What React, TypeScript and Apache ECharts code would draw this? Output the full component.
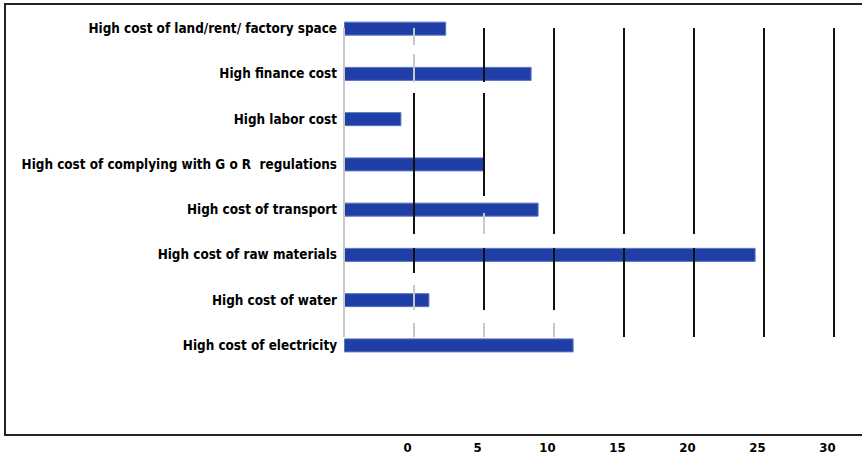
import React, { useEffect, useRef } from "react";
import * as echarts from "echarts";

const categories = [
  "High cost of land/rent/ factory space",
  "High finance cost",
  "High labor cost",
  "High cost of complying with G o R  regulations",
  "High cost of transport",
  "High cost of raw materials",
  "High cost of water",
  "High cost of electricity",
];
const values = [7.3, 13.4, 4.1, 10.0, 13.9, 29.4, 6.1, 16.4];
const tickLabels = ["", "0", "5", "10", "15", "20", "25", "30"];

// decorative gridline pieces: [x value, y from, y to, kind]
const gridPieces: [number, number, number, string][] = [
  [0, 28, 337, "g"],
  [5, 28, 45, "g"], [5, 54, 82, "g"], [5, 93, 234, "b"], [5, 248, 273, "b"], [5, 285, 310, "g"], [5, 323, 337, "g"],
  [10, 28, 82, "b"], [10, 93, 196, "b"], [10, 213, 234, "g"], [10, 248, 310, "b"], [10, 323, 337, "g"],
  [15, 28, 234, "b"], [15, 248, 310, "b"], [15, 323, 337, "g"],
  [20, 28, 234, "b"], [20, 248, 337, "b"],
  [25, 28, 234, "b"], [25, 248, 337, "b"],
  [30, 28, 337, "b"],
  [35, 28, 337, "b"],
];

export default function App() {
  const ref = useRef<HTMLDivElement>(null);
  useEffect(() => {
    const chart = echarts.init(ref.current!, null, { renderer: "svg" });
    const font = "'DejaVu Sans Condensed', sans-serif";
    chart.setOption({
      animation: false,
      grid: { left: 344, right: 28, top: 6, height: 362, outerBoundsMode: "none", containLabel: false },
      graphic: [
        {
          type: "rect",
          z: 0,
          shape: { x: 5, y: 4, width: 900, height: 431 },
          style: { fill: "transparent", stroke: "#222", lineWidth: 2 },
        },
      ],
      xAxis: {
        type: "value",
        min: 0,
        max: 35,
        interval: 5,
        offset: 67,
        axisLine: { show: false },
        axisTick: { show: false },
        splitLine: { show: false },
        axisLabel: {
          margin: 6,
          color: "#000",
          fontWeight: "bold",
          fontSize: 13,
          fontFamily: font,
          padding: [0, 13, 0, 0],
          formatter: (v: number) => tickLabels[Math.round(v / 5)] ?? "",
        },
      },
      yAxis: [
        {
          type: "category",
          inverse: true,
          data: categories,
          axisLine: { show: false },
          axisTick: { show: false },
          splitLine: { show: false },
          axisLabel: {
            margin: 7,
            color: "#000",
            fontWeight: "bold",
            fontSize: 13.4,
            fontFamily: font,
          },
        },
        { type: "value", min: 6, max: 368, inverse: true, show: false },
      ],
      series: [
        {
          type: "line",
          xAxisIndex: 0,
          yAxisIndex: 1,
          data: [],
          z: 1,
          silent: true,
          markLine: {
            silent: true,
            symbol: "none",
            label: { show: false },
            data: gridPieces.map(([x, y0, y1, k]) => [
              {
                coord: [x, y0],
                lineStyle: { color: k === "b" ? "#111" : "#c8c8c8", width: 2, type: "solid" },
              },
              { coord: [x, y1] },
            ]),
          },
        },
        {
          type: "bar",
          xAxisIndex: 0,
          yAxisIndex: 0,
          data: values,
          barWidth: 14,
          z: 3,
          itemStyle: { color: "#1f3fa7", borderColor: "#5a74c2", borderWidth: 1 },
        },
      ],
    });
    return () => chart.dispose();
  }, []);
  return (
    <div
      ref={ref}
      style={{ position: "absolute", left: 0, top: 0, width: 862, height: 460 }}
    />
  );
}
